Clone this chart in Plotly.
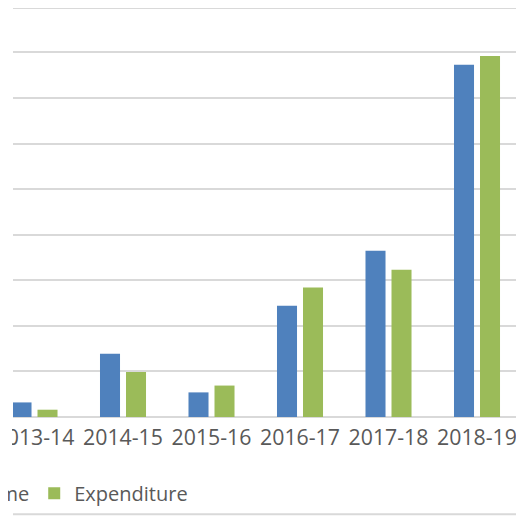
import plotly.graph_objects as go

categories = ["2013-14", "2014-15", "2015-16", "2016-17", "2017-18", "2018-19"]
income = [0.32, 1.39, 0.54, 2.44, 3.65, 7.73]
expenditure = [0.16, 0.99, 0.69, 2.84, 3.23, 7.92]
series_names = ["Income", "Expenditure"]
series_colors = ["#4F81BD", "#9BBB59"]

# figure is placed by the page at an 8px offset
W, H = 516, 508
ml, mr, mt = 5, 2, 0
baseline_fy = 409.3
mb = H - baseline_fy
pw = W - ml - mr
ph = H - mt - mb
unit_px = 45.6
ymax = ph / unit_px

font = dict(family="Open Sans", size=20, color="#595959")
tick_font = dict(family="Open Sans", size=21.3, color="#595959")

fig = go.Figure()
for name, vals, col in zip(series_names, [income, expenditure], series_colors):
    fig.add_trace(go.Bar(x=categories, y=vals, name=name, marker_color=col,
                         marker_line_width=0))

def px_to_paper_x(px):
    return (px - ml) / pw

def px_to_paper_y(py):
    return (H - mb - py) / ph

fig.update_layout(
    width=W, height=H,
    margin=dict(l=ml, r=mr, t=mt, b=mb, autoexpand=False),
    paper_bgcolor="white", plot_bgcolor="white",
    barmode="group", bargap=0.4124, bargroupgap=0.23,
    font=font,
    showlegend=True,
    legend=dict(orientation="h", x=px_to_paper_x(-88), xanchor="left",
                y=px_to_paper_y(466), yanchor="top", font=font,
                bgcolor="rgba(0,0,0,0)", traceorder="normal"),
    xaxis=dict(range=[-0.243, -0.243 + pw / 88.5], showgrid=False,
               zeroline=False, showline=False, ticks="", tickfont=tick_font,
               ticklabelstandoff=6, automargin=False),
    yaxis=dict(range=[0, ymax], dtick=1, showgrid=True, gridcolor="#D9D9D9",
               gridwidth=2, zeroline=True, zerolinecolor="#D9D9D9",
               zerolinewidth=2, showticklabels=False, ticks="",
               automargin=False),
    shapes=[
        dict(type="line", xref="paper", yref="paper", x0=0, x1=1,
             y0=1, y1=1, line=dict(color="#D9D9D9", width=2)),
        dict(type="line", xref="paper", yref="paper", x0=0, x1=1,
             y0=px_to_paper_y(506.5), y1=px_to_paper_y(506.5),
             line=dict(color="#D9D9D9", width=2)),
        dict(type="rect", xref="paper", yref="paper", layer="above",
             x0=px_to_paper_x(-60), x1=px_to_paper_x(4),
             y0=px_to_paper_y(H + 20), y1=px_to_paper_y(-20),
             fillcolor="white", line_width=0),
    ],
)

fig.write_html("out.html")
